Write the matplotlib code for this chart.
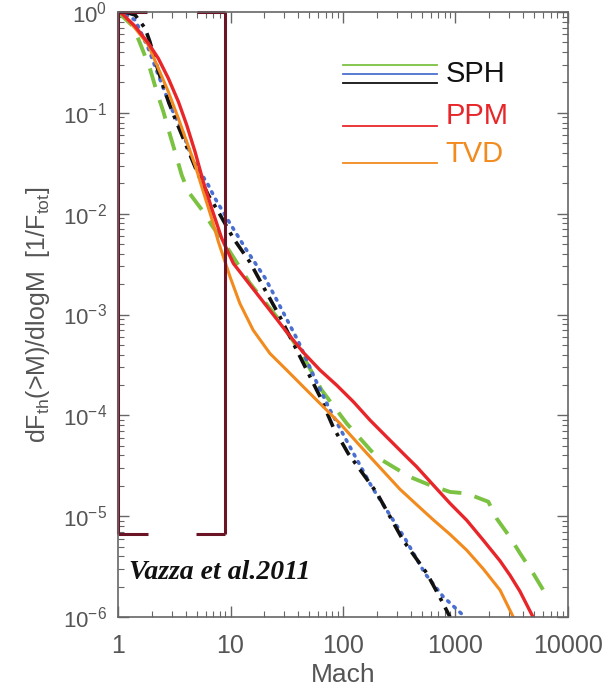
import numpy as np
import matplotlib
matplotlib.use("Agg")
import matplotlib.pyplot as plt

plt.rcParams["font.family"] = ["Liberation Sans", "DejaVu Sans"]
plt.rcParams["mathtext.fontset"] = "custom"
plt.rcParams["mathtext.rm"] = "Liberation Sans"
plt.rcParams["mathtext.it"] = "Liberation Sans:italic"

# values (Mach number, dF_th(>M)/dlogM)
ppm_mach = [1.0, 1.08, 1.42, 1.86, 2.28, 2.8, 3.44, 4.08, 4.84, 5.73, 6.8, 8.35,
            10.6, 15.0, 22.4, 31.6, 44.4, 62.5, 87.9, 124, 174, 244, 368, 452,
            631, 894, 1260, 1766, 2490, 3050, 3740, 4890]
ppm_flux = [1.0, 0.97, 0.72, 0.49, 0.347, 0.22, 0.129, 0.0757, 0.0411, 0.0207,
            0.0113, 5.69e-3, 3.21e-3, 1.95e-3, 1.1e-3, 6.7e-4, 4.2e-4, 2.81e-4,
            1.99e-4, 1.36e-4, 8.95e-5, 6.12e-5, 3.87e-5, 3.09e-5, 2.05e-5, 1.34e-5,
            9.1e-6, 5.78e-6, 3.6e-6, 2.6e-6, 1.8e-6, 1.0e-6]

tvd_mach = [1.0, 1.08, 1.42, 1.86, 2.28, 2.8, 3.44, 4.08, 4.84, 5.73, 6.8, 7.8,
            9.9, 12.1, 15.9, 22.4, 31.6, 44.4, 62.5, 94, 163, 321, 452, 635, 894,
            1259, 1766, 2490, 3265]
tvd_flux = [1.0, 0.97, 0.69, 0.471, 0.276, 0.162, 0.0882, 0.0517, 0.0304, 0.0165,
            8.98e-3, 5.26e-3, 2.37e-3, 1.29e-3, 7.0e-4, 4.11e-4, 2.81e-4, 1.92e-4,
            1.31e-4, 8.3e-5, 4.2e-5, 1.85e-5, 1.3e-5, 9.2e-6, 6.6e-6, 4.6e-6,
            3.0e-6, 1.85e-6, 1.0e-6]

sph_green_mach = [1.0, 1.37, 1.68, 1.92, 2.21, 2.53, 2.9, 3.21, 3.68, 4.22, 5.73,
                  6.8, 9.25, 14.9, 25.7, 42.9, 64.6, 108, 199, 394, 593, 894, 1259,
                  1960, 2320, 3050, 3740, 4920, 6030]
sph_green_flux = [1.0, 0.715, 0.404, 0.276, 0.162, 0.1026, 0.0603, 0.0411, 0.0242,
                  0.0165, 0.01045, 7.7e-3, 4.7e-3, 2.04e-3, 9.5e-4, 4.11e-4, 1.78e-4,
                  8.3e-5, 3.87e-5, 2.45e-5, 2.03e-5, 1.74e-5, 1.68e-5, 1.39e-5,
                  9.5e-6, 6.2e-6, 4.3e-6, 2.7e-6, 1.85e-6]

sph_black_mach = [1.15, 1.42, 1.74, 1.92, 2.28, 2.8, 3.21, 5.18, 6.35, 7.8, 10.6,
                  14.9, 20.3, 27.5, 38.8, 47.6, 62.5, 82, 111, 200, 341, 558, 774,
                  894]
sph_black_flux = [1.0, 0.933, 0.69, 0.507, 0.26, 0.13, 0.088, 0.0242, 0.0153,
                  0.01045, 5.69e-3, 3.3e-3, 1.75e-3, 9.5e-4, 4.43e-4, 2.81e-4,
                  1.53e-4, 7.6e-5, 4.2e-5, 1.7e-5, 5.8e-6, 2.7e-6, 1.37e-6, 1.0e-6]

sph_blue_mach = [1.0, 1.1, 1.42, 1.86, 2.28, 2.9, 3.8, 4.52, 5.36, 6.35, 7.28, 9.9,
                 13.9, 20.3, 24.9, 31.6, 40.1, 56.4, 76.6, 115, 181, 356, 536, 774,
                 1215]
sph_blue_flux = [1.0, 0.97, 0.833, 0.436, 0.237, 0.119, 0.0626, 0.0354, 0.026,
                 0.0192, 0.0142, 8.0e-3, 4.35e-3, 2.3e-3, 1.5e-3, 9.0e-4, 5.4e-4,
                 2.3e-4, 1.13e-4, 4.9e-5, 1.94e-5, 6.0e-6, 2.7e-6, 1.6e-6, 1.0e-6]

x_ticks = [1, 10, 100, 1000, 10000]
x_tick_labels = ["1", "10", "100", "1000", "10000"]
y_ticks = [1e0, 1e-1, 1e-2, 1e-3, 1e-4, 1e-5, 1e-6]
y_tick_labels = [r"10$^{0}$", r"10$^{-1}$", r"10$^{-2}$", r"10$^{-3}$",
                 r"10$^{-4}$", r"10$^{-5}$", r"10$^{-6}$"]

RED = "#e8262a"
ORANGE = "#f28a1e"
GREEN = "#7cc242"
BLUE = "#4a6fd0"
BLACK = "#111111"
MAROON = "#6b1426"
GREY = "#666666"
TXT = "#555555"

fig = plt.figure(figsize=(6.16, 6.9), dpi=100)
ax = fig.add_axes([0.1916, 0.1058, 0.7304, 0.8768])

ax.plot(sph_green_mach, sph_green_flux, color=GREEN, lw=2.8, dashes=(5, 3.5))
ax.plot(sph_blue_mach, sph_blue_flux, color=BLUE, lw=2.6, dashes=(0.5, 1.8),
        dash_capstyle="round")
ax.plot(sph_black_mach, sph_black_flux, color=BLACK, lw=2.6, dashes=(4, 2, 1, 2))
ax.plot(tvd_mach, tvd_flux, color=ORANGE, lw=2.2)
ax.plot(ppm_mach, ppm_flux, color=RED, lw=2.4)

ax.set_xscale("log")
ax.set_yscale("log")
ax.set_xlim(1, 10000)
ax.set_ylim(1e-6, 1)

ax.set_xticks(x_ticks)
ax.set_xticklabels(x_tick_labels)
ax.set_yticks(y_ticks)
ax.set_yticklabels(y_tick_labels)
ax.tick_params(which="both", direction="in", top=True, right=True, colors=GREY,
               labelcolor=TXT)
ax.tick_params(axis="x", which="major", labelsize=18, pad=12)
ax.tick_params(axis="y", which="major", labelsize=16, pad=8)
ax.tick_params(which="major", length=8, width=1.0)
ax.tick_params(which="minor", length=4, width=0.8)
for sp in ax.spines.values():
    sp.set_color(GREY)
    sp.set_linewidth(1.2)

ax.set_xlabel("Mach", fontsize=19, color=TXT, labelpad=4)
ax.set_ylabel(r"dF$_{\rm th}$(>M)/dlogM  [1/F$_{\rm tot}$]", fontsize=18,
              color=TXT, labelpad=8)

# legend drawn by hand, as in the figure
lx = [0.5, 0.71]
for yy, c in [(0.912, GREEN), (0.897, BLUE), (0.882, BLACK)]:
    ax.plot(lx, [yy, yy], transform=ax.transAxes, color=c, lw=1.3)
ax.text(0.728, 0.897, "SPH", transform=ax.transAxes, fontsize=21, color=BLACK,
        va="center", ha="left")
ax.plot(lx, [0.812, 0.812], transform=ax.transAxes, color=RED, lw=1.3)
ax.text(0.728, 0.828, "PPM", transform=ax.transAxes, fontsize=21, color=RED,
        va="center", ha="left")
ax.plot(lx, [0.75, 0.75], transform=ax.transAxes, color=ORANGE, lw=1.3)
ax.text(0.728, 0.765, "TVD", transform=ax.transAxes, fontsize=21, color=ORANGE,
        va="center", ha="left")

# highlight box around the low-Mach region
box_right = 8.9
box_bottom = 6.6e-6
box_kw = dict(color=MAROON, lw=2.2, clip_on=False, solid_capstyle="butt")
ax.plot([1, 1], [box_bottom, 1], **box_kw)
ax.plot([box_right, box_right], [box_bottom, 1], **box_kw)
ax.plot([1, 1.82], [1, 1], **box_kw)
ax.plot([5.0, box_right], [1, 1], **box_kw)
ax.plot([1, 1.85], [box_bottom, box_bottom], **box_kw)
ax.plot([4.9, box_right], [box_bottom, box_bottom], **box_kw)

ax.text(1.25, 2.75e-6, "Vazza et al.2011", fontsize=20, fontweight="bold",
        fontstyle="italic", family="Liberation Serif", color=BLACK, va="center")

fig.savefig("out.png", dpi=100)
